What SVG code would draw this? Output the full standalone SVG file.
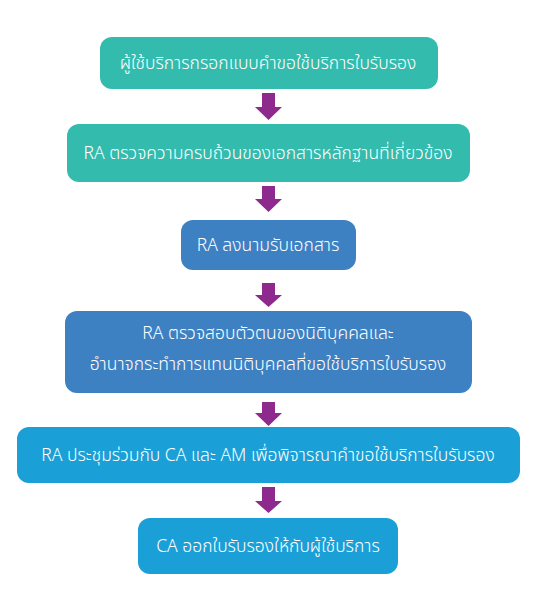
<svg xmlns="http://www.w3.org/2000/svg" width="556" height="595" viewBox="0 0 556 595">
<defs>
<style>
.t{font-family:"Noto Sans Thai","Leelawadee UI","Noto Sans","DejaVu Sans",sans-serif;font-size:17.5px;fill:#ffffff;text-anchor:middle;font-weight:300}
.teal{fill:#33BBAE}
.blue{fill:#3E81C3}
.sky{fill:#1A9FD7}
.arr{fill:#8E2A8E}
</style>
</defs>
<rect width="556" height="595" fill="#ffffff"/>
<g id="connectors">
<polygon class="arr" points="262,93 275,93 275,107 282,107 268.5,120 255,107 262,107"/>
<polygon class="arr" points="262,186 275,186 275,199 282,199 268.5,212 255,199 262,199"/>
<polygon class="arr" points="262,283 275,283 275,295 282,295 268.5,307 255,295 262,295"/>
<polygon class="arr" points="262,402 275,402 275,413 282,413 268.5,426 255,413 262,413"/>
<polygon class="arr" points="262,487 275,487 275,501 282,501 268.5,513 255,501 262,501"/>
</g>
<g id="n1">
<rect class="teal" x="100" y="37" width="338" height="52" rx="12"/>
<text class="t" x="268" y="69">ผู้ใช้บริการกรอกแบบคำขอใช้บริการใบรับรอง</text>
</g>
<g id="n2">
<rect class="teal" x="67" y="124" width="403" height="58" rx="12"/>
<text class="t" x="268" y="159">RA ตรวจความครบถ้วนของเอกสารหลักฐานที่เกี่ยวข้อง</text>
</g>
<g id="n3">
<rect class="blue" x="181" y="220" width="175" height="50" rx="12"/>
<text class="t" x="268" y="251">RA ลงนามรับเอกสาร</text>
</g>
<g id="n4">
<rect class="blue" x="65" y="311" width="407" height="82" rx="12"/>
<text class="t" x="268" y="339">RA ตรวจสอบตัวตนของนิติบุคคลและ</text>
<text class="t" x="268" y="370">อำนาจกระทำการแทนนิติบุคคลที่ขอใช้บริการใบรับรอง</text>
</g>
<g id="n5">
<rect class="sky" x="17" y="427" width="503" height="56" rx="12"/>
<text class="t" x="268" y="461">RA ประชุมร่วมกับ CA และ AM เพื่อพิจารณาคำขอใช้บริการใบรับรอง</text>
</g>
<g id="n6">
<rect class="sky" x="138" y="518" width="260" height="56" rx="12"/>
<text class="t" x="268" y="552">CA ออกใบรับรองให้กับผู้ใช้บริการ</text>
</g>
</svg>
